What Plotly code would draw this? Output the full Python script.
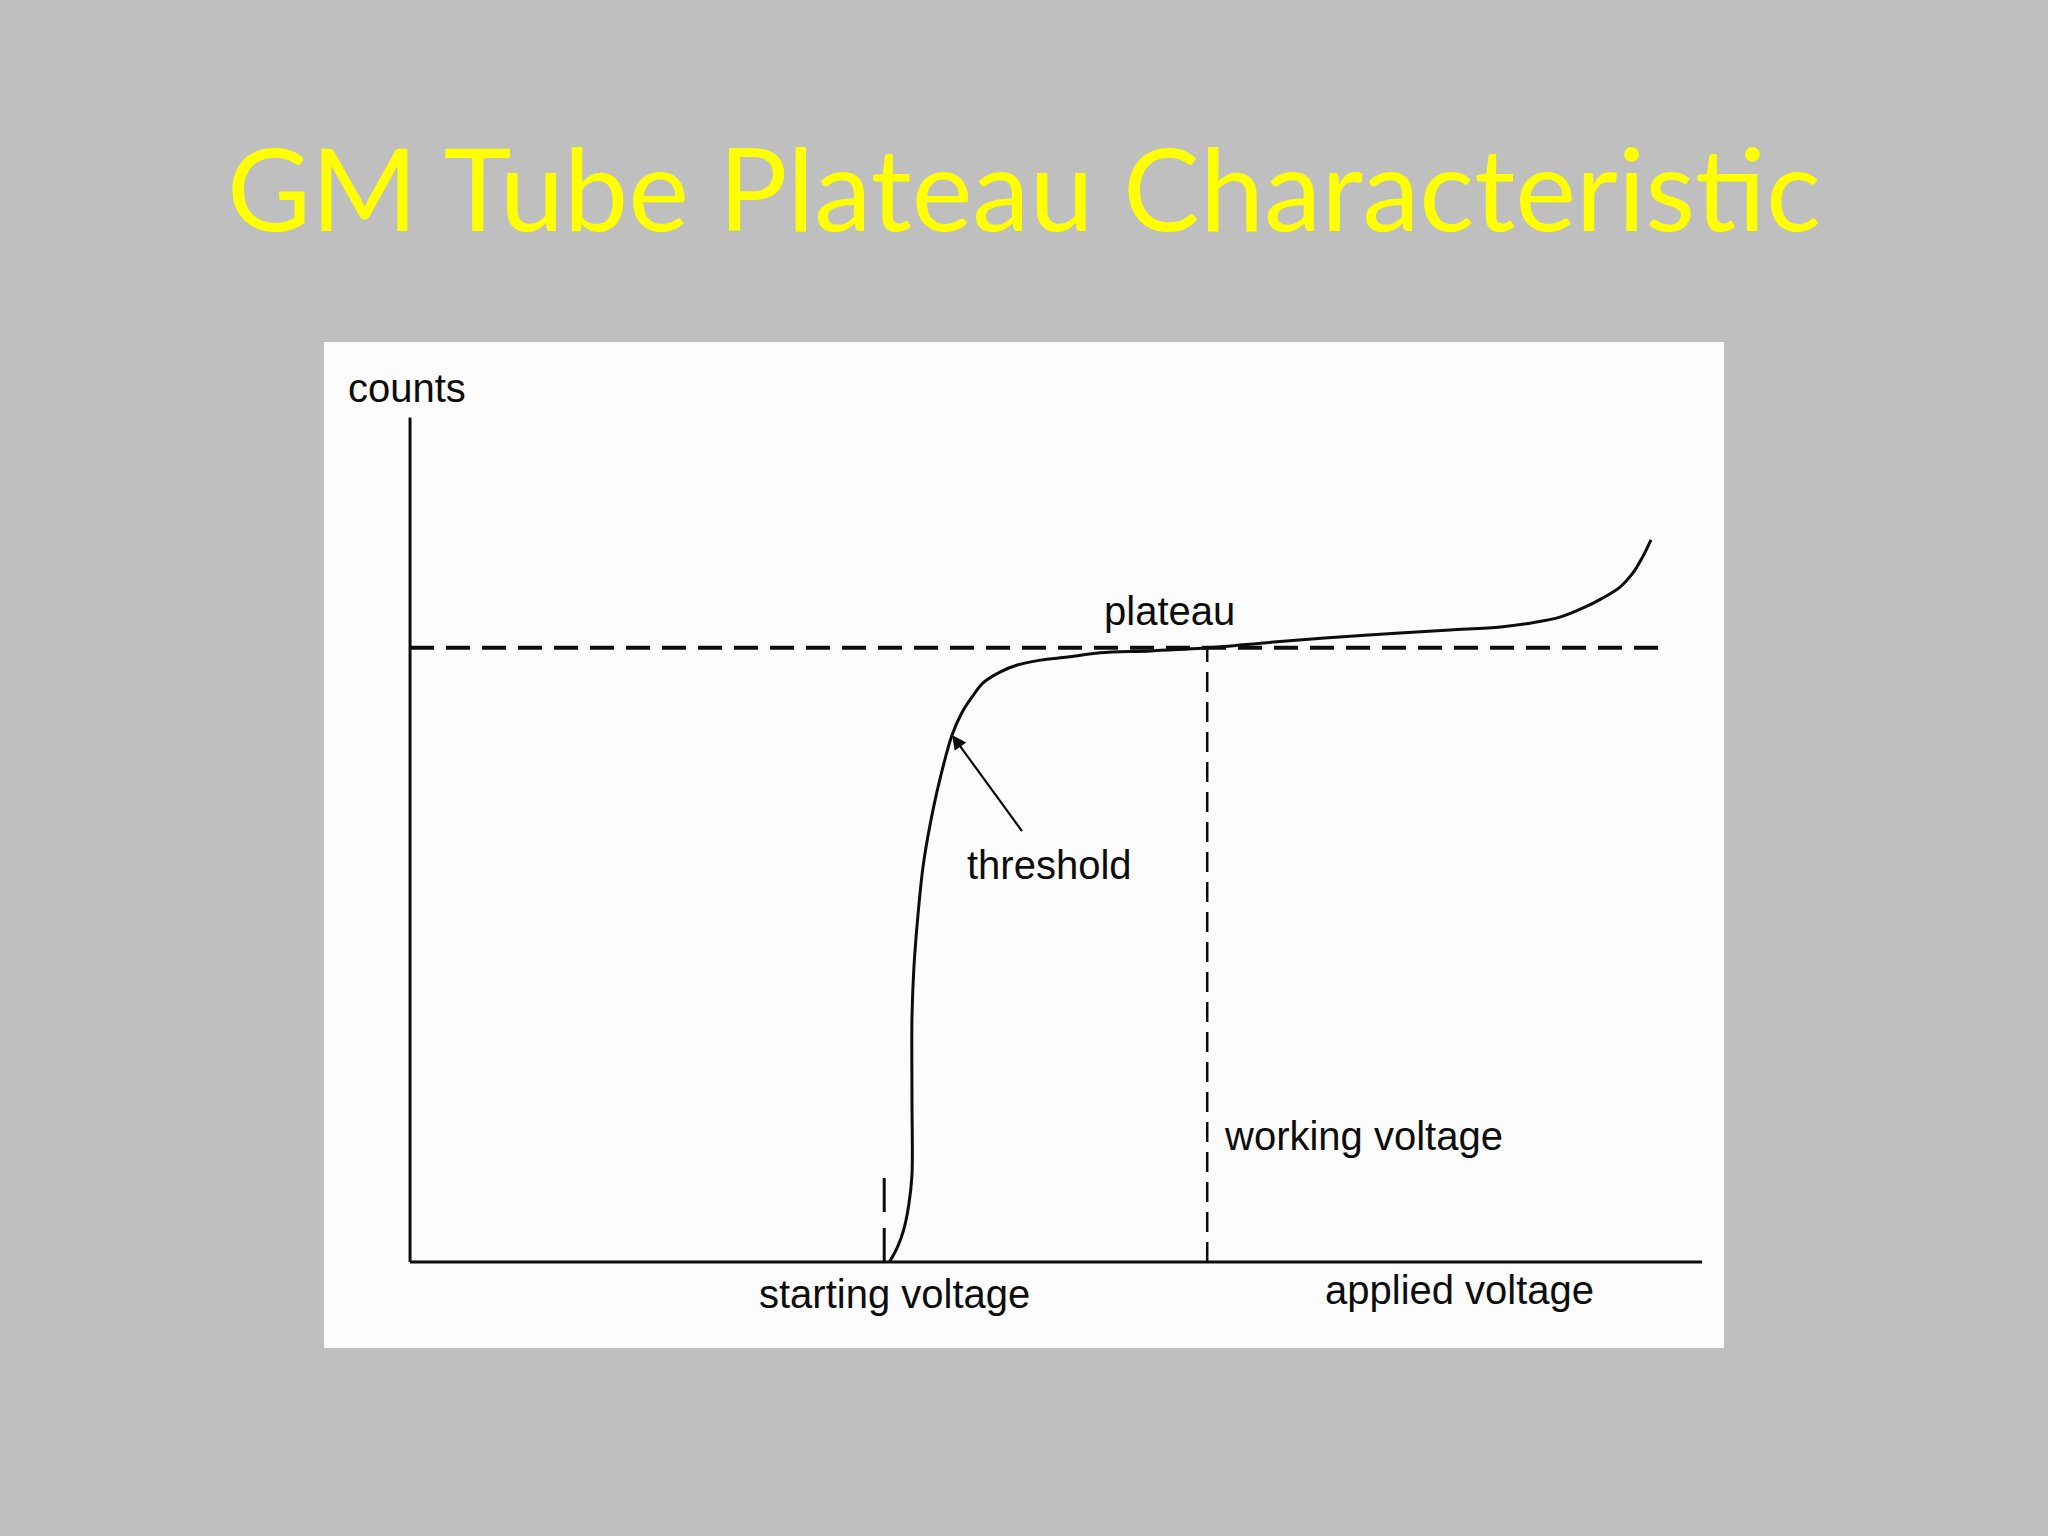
import plotly.graph_objects as go

# ---- data (arbitrary units) ----
voltage = [37.1, 37.7, 38.2, 38.6, 38.85, 38.85, 38.85, 39.0, 39.3, 39.7, 40.25, 41.0,
           41.95, 42.7, 43.5, 44.35, 45.7, 47.0, 48.8, 50.9, 53.4, 57.3, 61.8, 67.1,
           74.2, 80.5, 84.4, 86.9, 89.0, 90.8, 92.3, 93.65, 94.65, 95.4, 96.05]
counts = [0.0, 2.3, 5.2, 9.3, 14.2, 26.4, 39.9, 48.0, 56.2, 64.3, 71.2, 78.5,
          85.8, 89.4, 92.0, 94.3, 96.1, 97.2, 98.0, 98.5, 99.2, 99.5, 100.0, 101.0,
          102.1, 102.9, 103.4, 104.1, 105.0, 106.5, 108.1, 109.9, 112.2, 114.8, 117.6]

x_axis_x = [0, 100]
x_axis_y = [0, 0]
y_axis_x = [0, 0]
y_axis_y = [0, 137.5]

plateau_level = 100
plateau_x = [0, 97.1]
working_voltage = 61.7
starting_voltage = 37.1
starting_mark_top = 14.7
threshold_point = (41.95, 85.8)
threshold_tail = (47.45, 69.9)

title_text = "GM Tube Plateau Characteristic"

BG = "#BFBFBF"
PANEL = "#FCFCFC"
INK = "#0d0d0d"
TXT_FONT = "Liberation Sans, Arial, sans-serif"

fig = go.Figure()

# axes lines
fig.add_trace(go.Scatter(x=y_axis_x, y=y_axis_y, mode="lines",
                         line=dict(color=INK, width=3), hoverinfo="skip"))
fig.add_trace(go.Scatter(x=x_axis_x, y=x_axis_y, mode="lines",
                         line=dict(color=INK, width=3), hoverinfo="skip"))
# plateau dashed line
fig.add_trace(go.Scatter(x=plateau_x, y=[plateau_level, plateau_level], mode="lines",
                         line=dict(color=INK, width=4, dash="24px,12px"), hoverinfo="skip"))
# working voltage dashed line
fig.add_trace(go.Scatter(x=[working_voltage, working_voltage], y=[0, plateau_level], mode="lines",
                         line=dict(color=INK, width=2.5, dash="20px,10px"), hoverinfo="skip"))
# starting voltage mark
fig.add_trace(go.Scatter(x=[starting_voltage - 0.4, starting_voltage - 0.4], y=[0, starting_mark_top],
                         mode="lines", line=dict(color=INK, width=3, dash="34px,16px"), hoverinfo="skip"))
# characteristic curve
fig.add_trace(go.Scatter(x=voltage, y=counts, mode="lines",
                         line=dict(color=INK, width=3, shape="spline", smoothing=0.9),
                         hoverinfo="skip"))

# arrow to threshold
fig.add_annotation(x=threshold_point[0], y=threshold_point[1],
                   ax=threshold_tail[0], ay=threshold_tail[1], axref="x", ayref="y",
                   text="", showarrow=True, arrowhead=2, arrowsize=1.3, arrowwidth=2.2,
                   arrowcolor=INK)

labels = [
    ("counts", -0.2, 142.3, "center"),
    ("plateau", 58.8, 106.0, "center"),
    ("threshold", 49.5, 64.6, "center"),
    ("working voltage", 62.85, 20.5, "left"),
    ("applied voltage", 81.2, -4.6, "center"),
    ("starting voltage", 37.5, -5.2, "center"),
]
for txt, lx, ly, anc in labels:
    fig.add_annotation(x=lx, y=ly, text=txt, showarrow=False, xanchor=anc, yanchor="middle",
                       font=dict(family=TXT_FONT, size=40, color=INK))

fig.update_layout(
    width=2048, height=1536,
    paper_bgcolor=BG, plot_bgcolor=PANEL,
    margin=dict(l=324, r=324, t=342, b=188, pad=0),
    showlegend=False,
    title=dict(text=title_text, x=0.5, xanchor="center", xref="container",
               y=1 - 191 / 1536, yanchor="middle", yref="container",
               font=dict(family="Lato, Open Sans, sans-serif", size=115, color="#FFFF00")),
    xaxis=dict(range=[-6.66, 101.7], visible=False, fixedrange=True),
    yaxis=dict(range=[-14.0, 149.8], visible=False, fixedrange=True),
)

fig.write_html("out.html", config={"displayModeBar": False})

# remove default page margin so the figure sits at the window origin
with open("out.html", "r", encoding="utf-8") as f:
    html = f.read()
html = html.replace("<body>", '<body style="margin:0;padding:0;background:#BFBFBF;">', 1)
with open("out.html", "w", encoding="utf-8") as f:
    f.write(html)
